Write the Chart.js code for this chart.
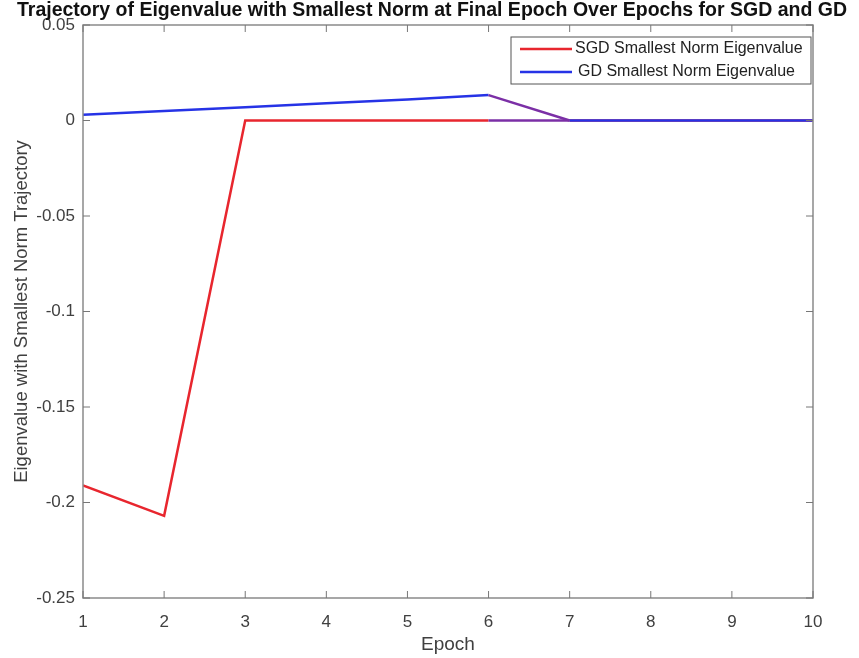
<!DOCTYPE html>
<html lang="en">
<head>
  <meta charset="UTF-8">
  <title>Smallest Norm Eigenvalue Trajectory</title>
  <script src="https://cdn.jsdelivr.net/npm/chart.js@4.4.1/dist/chart.umd.min.js"></script>
  <style>
    html, body { margin: 0; padding: 0; background: #fff; }
    #wrap { width: 859px; height: 658px; }
  </style>
</head>
<body>
  <div id="wrap"><canvas id="eigChart" width="859" height="658"></canvas></div>

  <script>
    // data
    const epochs = [1, 2, 3, 4, 5, 6, 7, 8, 9, 10];
    const sgdValues = [-0.191, -0.207, 0, 0, 0, 0, 0, 0, 0, 0];
    const gdValues = [0.003, 0.005, 0.007, 0.009, 0.011, 0.0133, 0, 0, 0, 0];
    const yTickLabels = ['-0.25', '-0.2', '-0.15', '-0.1', '-0.05', '0', '0.05'];
    const seriesNames = ['SGD Smallest Norm Eigenvalue', 'GD Smallest Norm Eigenvalue'];
    const titleText = 'Trajectory of Eigenvalue with Smallest Norm at Final Epoch Over Epochs for SGD and GD';

    const RED = '#e8262e';
    const BLUE = '#2633e6';
    const PURPLE = '#7b2fa6';
    const FONT = '"Liberation Sans", Arial, sans-serif';

    const toPoints = vals => epochs.map((e, i) => ({ x: e, y: vals[i] }));

    // figure title, centred on the whole canvas like matlab does
    const figTitle = {
      id: 'figTitle',
      afterDraw(chart) {
        const ctx = chart.ctx;
        ctx.save();
        ctx.font = 'bold 19.5px ' + FONT;
        ctx.fillStyle = '#111';
        ctx.textAlign = 'center';
        ctx.textBaseline = 'middle';
        ctx.fillText(titleText, 432, 11);
        ctx.restore();
      }
    };

    // box + inward ticks, matlab style
    const framePlugin = {
      id: 'frame',
      afterDatasetsDraw(chart) {
        const { ctx, chartArea: a, scales } = chart;
        ctx.save();
        ctx.strokeStyle = '#8a8a8a';
        ctx.lineWidth = 1.5;
        ctx.strokeRect(a.left, a.top, a.right - a.left, a.bottom - a.top);
        ctx.lineWidth = 1;
        ctx.strokeStyle = '#777';
        const t = 7;
        scales.x.ticks.forEach(tk => {
          const px = scales.x.getPixelForValue(tk.value);
          ctx.beginPath();
          ctx.moveTo(px, a.bottom); ctx.lineTo(px, a.bottom - t);
          ctx.moveTo(px, a.top); ctx.lineTo(px, a.top + t);
          ctx.stroke();
        });
        scales.y.ticks.forEach(tk => {
          const py = scales.y.getPixelForValue(tk.value);
          ctx.beginPath();
          ctx.moveTo(a.left, py); ctx.lineTo(a.left + t, py);
          ctx.moveTo(a.right, py); ctx.lineTo(a.right - t, py);
          ctx.stroke();
        });
        ctx.restore();
      }
    };

    // legend box in the upper right of the axes
    const legendBox = {
      id: 'legendBox',
      afterDraw(chart) {
        const { ctx, chartArea: a } = chart;
        const right = a.right - 2, top = a.top + 12, w = 300, h = 47;
        const left = right - w;
        ctx.save();
        ctx.fillStyle = '#fff';
        ctx.fillRect(left, top, w, h);
        ctx.strokeStyle = '#555';
        ctx.lineWidth = 1;
        ctx.strokeRect(left, top, w, h);
        ctx.font = '16px ' + FONT;
        ctx.textBaseline = 'middle';
        chart.data.datasets.forEach((ds, i) => {
          const y = top + 12 + i * 23;
          ctx.strokeStyle = ds.borderColor;
          ctx.lineWidth = 2.5;
          ctx.beginPath();
          ctx.moveTo(left + 9, y); ctx.lineTo(left + 61, y);
          ctx.stroke();
          ctx.fillStyle = '#222';
          ctx.fillText(ds.label, left + 64 + i * 3, y);
        });
        ctx.restore();
      }
    };

    new Chart(document.getElementById('eigChart'), {
      type: 'line',
      data: {
        datasets: [
          {
            label: seriesNames[0],
            data: toPoints(sgdValues),
            borderColor: RED,
            borderWidth: 2.5,
            pointRadius: 0,
            tension: 0,
            order: 2,
            segment: { borderColor: c => c.p0DataIndex === 5 ? PURPLE : RED }
          },
          {
            label: seriesNames[1],
            data: toPoints(gdValues),
            borderColor: BLUE,
            borderWidth: 2.5,
            pointRadius: 0,
            tension: 0,
            order: 1,
            segment: { borderColor: c => c.p0DataIndex === 5 ? PURPLE : BLUE }
          }
        ]
      },
      options: {
        responsive: false,
        animation: false,
        layout: { padding: { left: 0, right: 46, top: 25, bottom: 0 } },
        plugins: {
          legend: { display: false },
          tooltip: { enabled: false },
          title: { display: false }
        },
        scales: {
          x: {
            type: 'linear',
            min: 1, max: 10,
            grid: { display: false },
            border: { display: false },
            ticks: {
              stepSize: 1,
              color: '#404040',
              padding: 6,
              maxRotation: 0,
              font: { family: FONT, size: 17 }
            },
            title: {
              display: true,
              text: 'Epoch',
              color: '#404040',
              font: { family: FONT, size: 19 },
              padding: { top: 0, bottom: 2 }
            },
            afterFit: s => { s.height = 60; }
          },
          y: {
            min: -0.25, max: 0.05,
            grid: { display: false },
            border: { display: false },
            ticks: {
              stepSize: 0.05,
              color: '#404040',
              padding: 0,
              font: { family: FONT, size: 17 },
              callback: (v, i) => yTickLabels[i]
            },
            title: {
              display: true,
              text: 'Eigenvalue with Smallest Norm Trajectory',
              color: '#404040',
              font: { family: FONT, size: 18.5 },
              padding: { top: 11, bottom: 0 }
            },
            afterFit: s => { s.width = 83; }
          }
        }
      },
      plugins: [framePlugin, legendBox, figTitle]
    });
  </script>
</body>
</html>
